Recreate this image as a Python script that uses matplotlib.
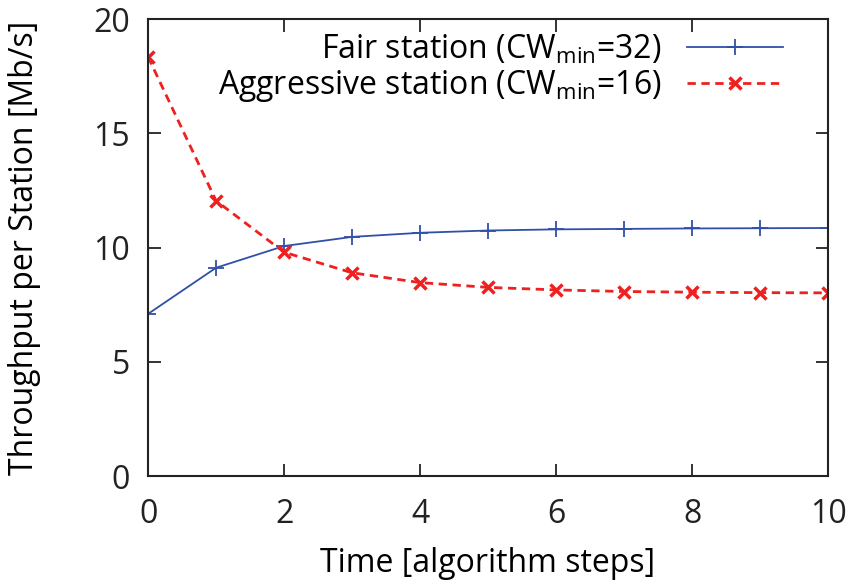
import numpy as np
import matplotlib
matplotlib.use('Agg')
import matplotlib.pyplot as plt

# values
steps = list(range(11))
fair = [7.1, 9.12, 10.07, 10.47, 10.65, 10.75, 10.8, 10.82, 10.84, 10.85, 10.86]
aggressive = [18.35, 12.05, 9.8, 8.9, 8.47, 8.26, 8.15, 8.08, 8.05, 8.03, 8.02]

plt.rcParams['font.family'] = ['Open Sans', 'DejaVu Sans']
plt.rcParams['mathtext.fontset'] = 'custom'
plt.rcParams['mathtext.rm'] = 'Open Sans'

fig = plt.figure(figsize=(8.51, 5.82), dpi=100)
ax = fig.add_axes([0.174, 0.182, 0.799, 0.785])

ax.plot(steps, fair, color='#3050a8', lw=1.3, marker='+', ms=11, mew=1.3,
        label=r'Fair station (CW$_{\mathrm{min}}$=32)')
ax.plot(steps, aggressive, color='#ee2020', lw=2.0, ls=(0, (3, 2)), marker='x',
        ms=9, mew=2.5, label=r'Aggressive station (CW$_{\mathrm{min}}$=16)')

ax.set_xlim(0, 10)
ax.set_ylim(0, 20)
ax.set_xticks([0, 2, 4, 6, 8, 10])
ax.set_yticks([0, 5, 10, 15, 20])
ax.tick_params(direction='in', top=True, right=True, length=9, width=1.3,
               labelsize=23, colors='#222222')
ax.tick_params(axis='x', pad=16)
ax.tick_params(axis='y', pad=13)
for s in ax.spines.values():
    s.set_linewidth(1.5)
    s.set_color('#222222')

ax.set_xlabel('Time [algorithm steps]', fontsize=23)
ax.set_ylabel('Throughput per Station [Mb/s]', fontsize=23)
ax.xaxis.set_label_coords(0.5, -0.155)
ax.yaxis.set_label_coords(-0.158, 0.5)

leg = ax.legend(loc='upper right', bbox_to_anchor=(0.934, 0.97), frameon=False,
                markerfirst=False, fontsize=23, handlelength=3.0,
                labelspacing=0.05, borderaxespad=0, handletextpad=0.8,
                borderpad=0)
for t in leg.get_texts():
    t.set_ha('right')

fig.savefig('out.png', dpi=100)
